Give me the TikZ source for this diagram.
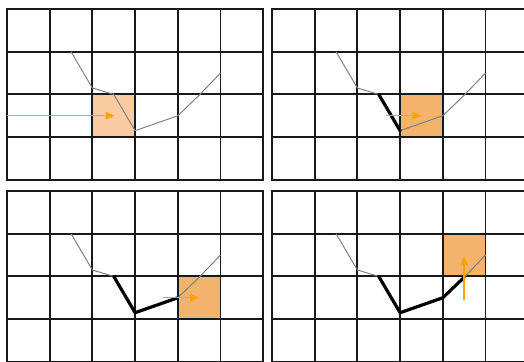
\documentclass[tikz,border=0pt]{standalone}
\usetikzlibrary{arrows.meta}
\definecolor{lightor}{HTML}{F8CBA0}
\definecolor{darkor}{HTML}{F4B36C}
\definecolor{arrowor}{HTML}{FFA200}
\tikzset{
  gridline/.style={line width=1.9pt, black!90},
  thincurve/.style={line width=1pt, black!50},
  thickcurve/.style={line width=3.2pt, black, line join=round, line cap=round},
  movearrow/.style={line width=1.4pt, arrowor, -{Triangle[length=9pt,width=7.5pt]}},
}
\newcommand{\panelpoints}{%
  \coordinate (p1) at (1.5,1);
  \coordinate (p2) at (2,1.85);
  \coordinate (p3) at (2.5,2);
  \coordinate (p4) at (3,2.85);
  \coordinate (p5) at (4,2.5);
  \coordinate (p6) at (4.5,2.02);
  \coordinate (p7) at (5,1.5);
}
\newcommand{\panelgrid}{%
  \foreach \gx in {0,...,6} {\draw[gridline, line cap=rect] (\gx,0) -- (\gx,4);}
  \foreach \gy in {0,...,4} {\draw[gridline, line cap=rect] (0,\gy) -- (6,\gy);}
  \draw[thincurve] (p1) -- (p2) -- (p3) -- (p4) -- (p5) -- (p6) -- (p7);
}
\begin{document}
\begin{tikzpicture}[x=1pt,y=-1pt]
\useasboundingbox (0,0) rectangle (524,361);
\clip (0,0) rectangle (524,361);
% panel 1
\begin{scope}[xshift=7pt,yshift=-9pt,x=42.7pt,y=-42.7pt]
  \panelpoints
  \fill[lightor] (2,2) rectangle (3,3);
  \panelgrid
  \coordinate (a1s) at (0,2.5);
  \coordinate (a1e) at (2.52,2.5);
  \draw[movearrow] (a1s) -- (a1e);
\end{scope}
% panel 2
\begin{scope}[xshift=272pt,yshift=-9pt,x=42.7pt,y=-42.7pt]
  \panelpoints
  \fill[darkor] (3,2) rectangle (4,3);
  \panelgrid
  \draw[thickcurve] (p3) -- (p4);
  \coordinate (a2s) at (2.67,2.5);
  \coordinate (a2e) at (3.5,2.5);
  \draw[movearrow] (a2s) -- (a2e);
\end{scope}
% panel 3
\begin{scope}[xshift=7pt,yshift=-191pt,x=42.7pt,y=-42.7pt]
  \panelpoints
  \fill[darkor] (4,2) rectangle (5,3);
  \panelgrid
  \draw[thickcurve] (p3) -- (p4) -- (p5);
  \coordinate (a3s) at (3.66,2.5);
  \coordinate (a3e) at (4.5,2.5);
  \draw[movearrow] (a3s) -- (a3e);
\end{scope}
% panel 4
\begin{scope}[xshift=272pt,yshift=-191pt,x=42.7pt,y=-42.7pt]
  \panelpoints
  \fill[darkor] (4,1) rectangle (5,2);
  \panelgrid
  \draw[thickcurve] (p3) -- (p4) -- (p5) -- (p6);
  \coordinate (a4s) at (4.5,2.55);
  \coordinate (a4e) at (4.5,1.52);
  \draw[movearrow] (a4s) -- (a4e);
\end{scope}
\end{tikzpicture}
\end{document}
